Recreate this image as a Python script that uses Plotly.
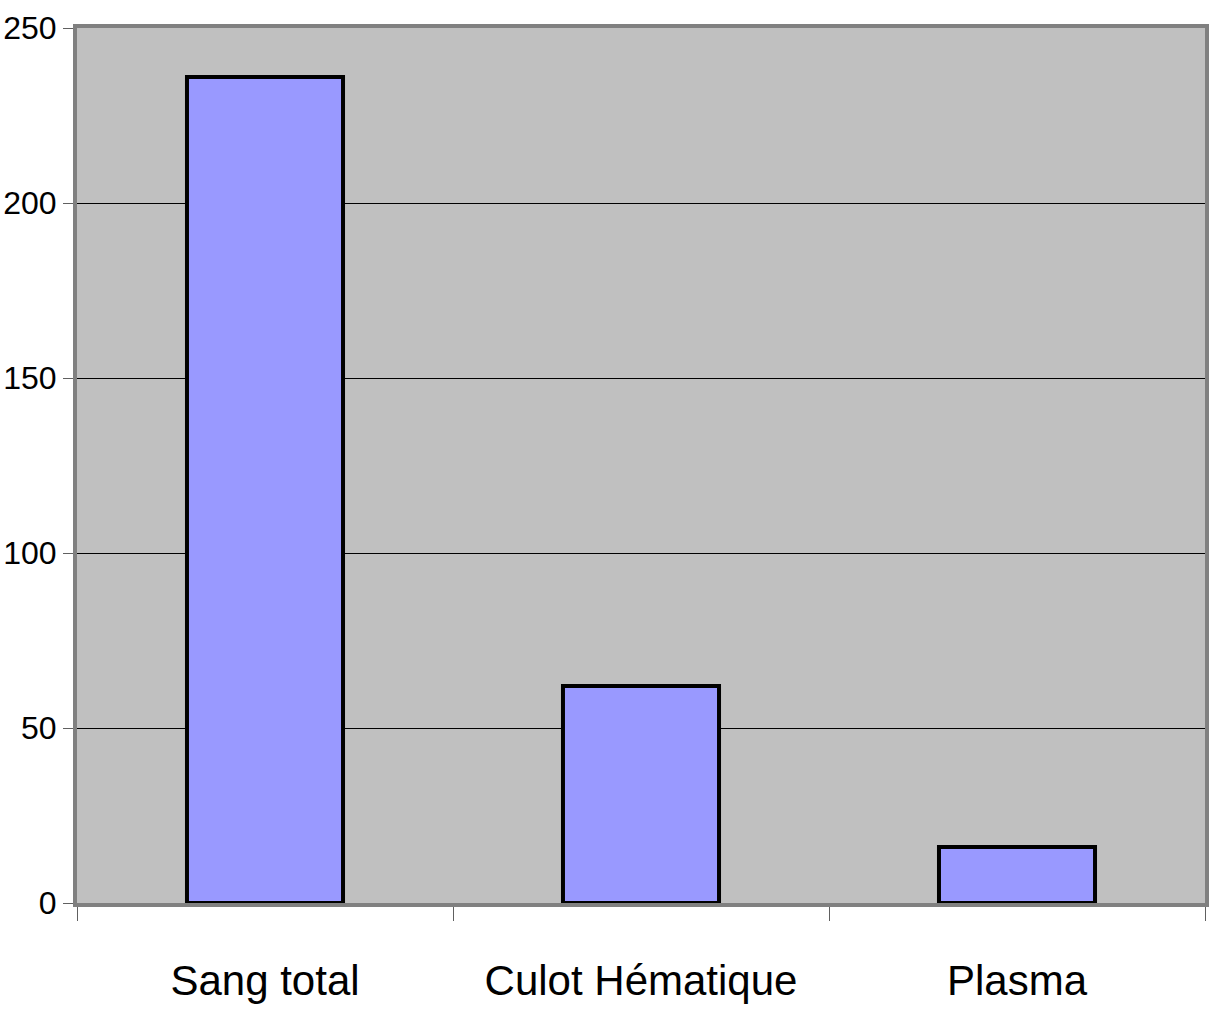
import plotly.graph_objects as go

categories = ["Sang total", "Culot Hématique", "Plasma"]
values = [236, 62, 16]
y_ticks = [0, 50, 100, 150, 200, 250]

font_family = "Liberation Sans, Arial, sans-serif"

fig = go.Figure(
    go.Bar(
        x=categories,
        y=values,
        marker=dict(color="#9999FF", line=dict(color="black", width=4)),
        width=0.415,
    )
)

fig.update_layout(
    width=1210,
    height=1009,
    margin=dict(l=77, r=5, t=28, b=106),
    paper_bgcolor="white",
    plot_bgcolor="#C0C0C0",
    showlegend=False,
    font=dict(family=font_family, color="black"),
)

fig.update_xaxes(
    automargin=False,
    showgrid=False,
    showline=True,
    mirror=True,
    linecolor="#808080",
    linewidth=4,
    ticks="outside",
    tickson="boundaries",
    ticklen=14,
    tickcolor="#606060",
    tickwidth=1,
    tickfont=dict(size=42, family=font_family),
    ticklabelstandoff=38,
)

fig.update_yaxes(
    automargin=False,
    range=[0, 250],
    tickvals=y_ticks,
    showgrid=True,
    gridcolor="black",
    gridwidth=1,
    zeroline=False,
    showline=True,
    mirror=True,
    linecolor="#808080",
    linewidth=4,
    ticks="outside",
    ticklen=10,
    tickcolor="#606060",
    tickwidth=1,
    tickfont=dict(size=32, family=font_family),
    ticklabelstandoff=0,
)

fig.write_html("out.html")
